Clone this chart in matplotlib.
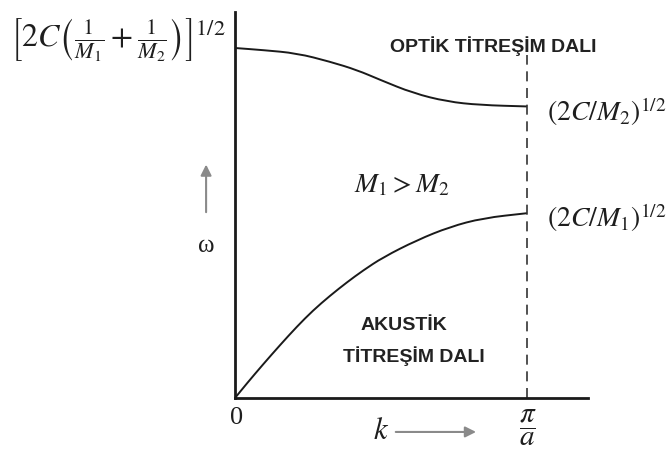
import numpy as np
import matplotlib
matplotlib.use("Agg")
import matplotlib.pyplot as plt
from matplotlib.path import Path
from matplotlib.patches import PathPatch

plt.rcParams['mathtext.fontset'] = 'stix'

# k in units of pi/a, omega in units of [2C(1/M1+1/M2)]^(1/2)
k_opt = [0.0, 0.096, 0.212, 0.325, 0.418, 0.497, 0.610, 0.726, 0.839, 1.0]
w_opt = [1.0, 0.994, 0.985, 0.961, 0.937, 0.909, 0.871, 0.847, 0.837, 0.833]

k_ac = [0.0, 0.040, 0.096, 0.154, 0.212, 0.267, 0.325, 0.384, 0.438,
        0.507, 0.623, 0.736, 0.849, 1.0]
w_ac = [0.0, 0.041, 0.096, 0.151, 0.204, 0.250, 0.292, 0.331, 0.364,
        0.402, 0.451, 0.489, 0.514, 0.528]

k_zone = 1.0          # pi/a
dash_top = 0.98


def smooth_branch(xs, ys):
    # quadratic bezier pieces between midpoints, read points act as control points
    p = np.column_stack([xs, ys])
    verts = [p[0], (p[0] + p[1]) / 2]
    codes = [Path.MOVETO, Path.LINETO]
    for i in range(1, len(p) - 1):
        verts += [p[i], (p[i] + p[i + 1]) / 2]
        codes += [Path.CURVE3, Path.CURVE3]
    verts.append(p[-1])
    codes.append(Path.LINETO)
    return Path(verts, codes)


fig = plt.figure(figsize=(6.72, 4.59), dpi=100)
ax = fig.add_axes([235/672, 61/459, 353/672, 386/459])
ax.set_xlim(0, 353/292)
ax.set_ylim(0, 386/350)
for s in ['top', 'right']:
    ax.spines[s].set_visible(False)
for s in ['left', 'bottom']:
    ax.spines[s].set_linewidth(2.0)
    ax.spines[s].set_color('#1a1a1a')
ax.set_xticks([])
ax.set_yticks([])

# branches
for ks, ws in [(k_opt, w_opt), (k_ac, w_ac)]:
    ax.add_patch(PathPatch(smooth_branch(ks, ws), fill=False, edgecolor='#1a1a1a',
                           lw=1.4, joinstyle='round', clip_on=False))

# zone boundary
ax.plot([k_zone, k_zone], [0, dash_top], color='#333333', lw=1.2,
        dashes=(6, 4), clip_on=False)

dark = '#1e1e1e'
ax.text(-0.40, 1.023,
        r'$\left[2C\left(\frac{1}{M_1}+\frac{1}{M_2}\right)\right]^{1/2}$',
        fontsize=23, ha='center', va='center', color=dark, clip_on=False)

bold = dict(family='Liberation Sans', fontweight='bold', fontsize=14, color='#222222',
            ha='center', va='center')
ax.text(0.884, 1.006, 'OPTİK TİTREŞİM DALI', **bold)
ax.text(0.579, 0.206, 'AKUSTİK', **bold)
ax.text(0.613, 0.120, 'TİTREŞİM DALI', **bold)

ax.text(0.572, 0.611, r'$M_1 > M_2$', fontsize=20, ha='center', va='center', color=dark)
ax.text(1.068, 0.817, r'$(2C/M_2)^{1/2}$', fontsize=20, ha='left', va='center',
        color=dark, clip_on=False)
ax.text(1.068, 0.514, r'$(2C/M_1)^{1/2}$', fontsize=20, ha='left', va='center',
        color=dark, clip_on=False)

# omega label with arrow
ax.text(-0.099, 0.434, 'ω', family='Liberation Serif', fontsize=18,
        ha='center', va='center', color=dark, clip_on=False)
ax.annotate('', xy=(-0.099, 0.675), xytext=(-0.099, 0.523),
            arrowprops=dict(arrowstyle='-|>', color='#8a8a8a', lw=1.5,
                            mutation_scale=16), annotation_clip=False)

# k axis labels
ax.text(0.007, -0.057, '0', family='Liberation Serif', fontsize=19,
        ha='center', va='center', color=dark, clip_on=False)
ax.text(1.003, -0.086, r'$\dfrac{\pi}{a}$', fontsize=21,
        ha='center', va='center', color=dark, clip_on=False)
ax.text(0.500, -0.094, r'$k$', fontsize=22, ha='center', va='center',
        color=dark, clip_on=False)
ax.annotate('', xy=(0.835, -0.097), xytext=(0.541, -0.097),
            arrowprops=dict(arrowstyle='-|>', color='#8a8a8a', lw=1.5,
                            mutation_scale=16), annotation_clip=False)

fig.savefig('out.png', dpi=100)
